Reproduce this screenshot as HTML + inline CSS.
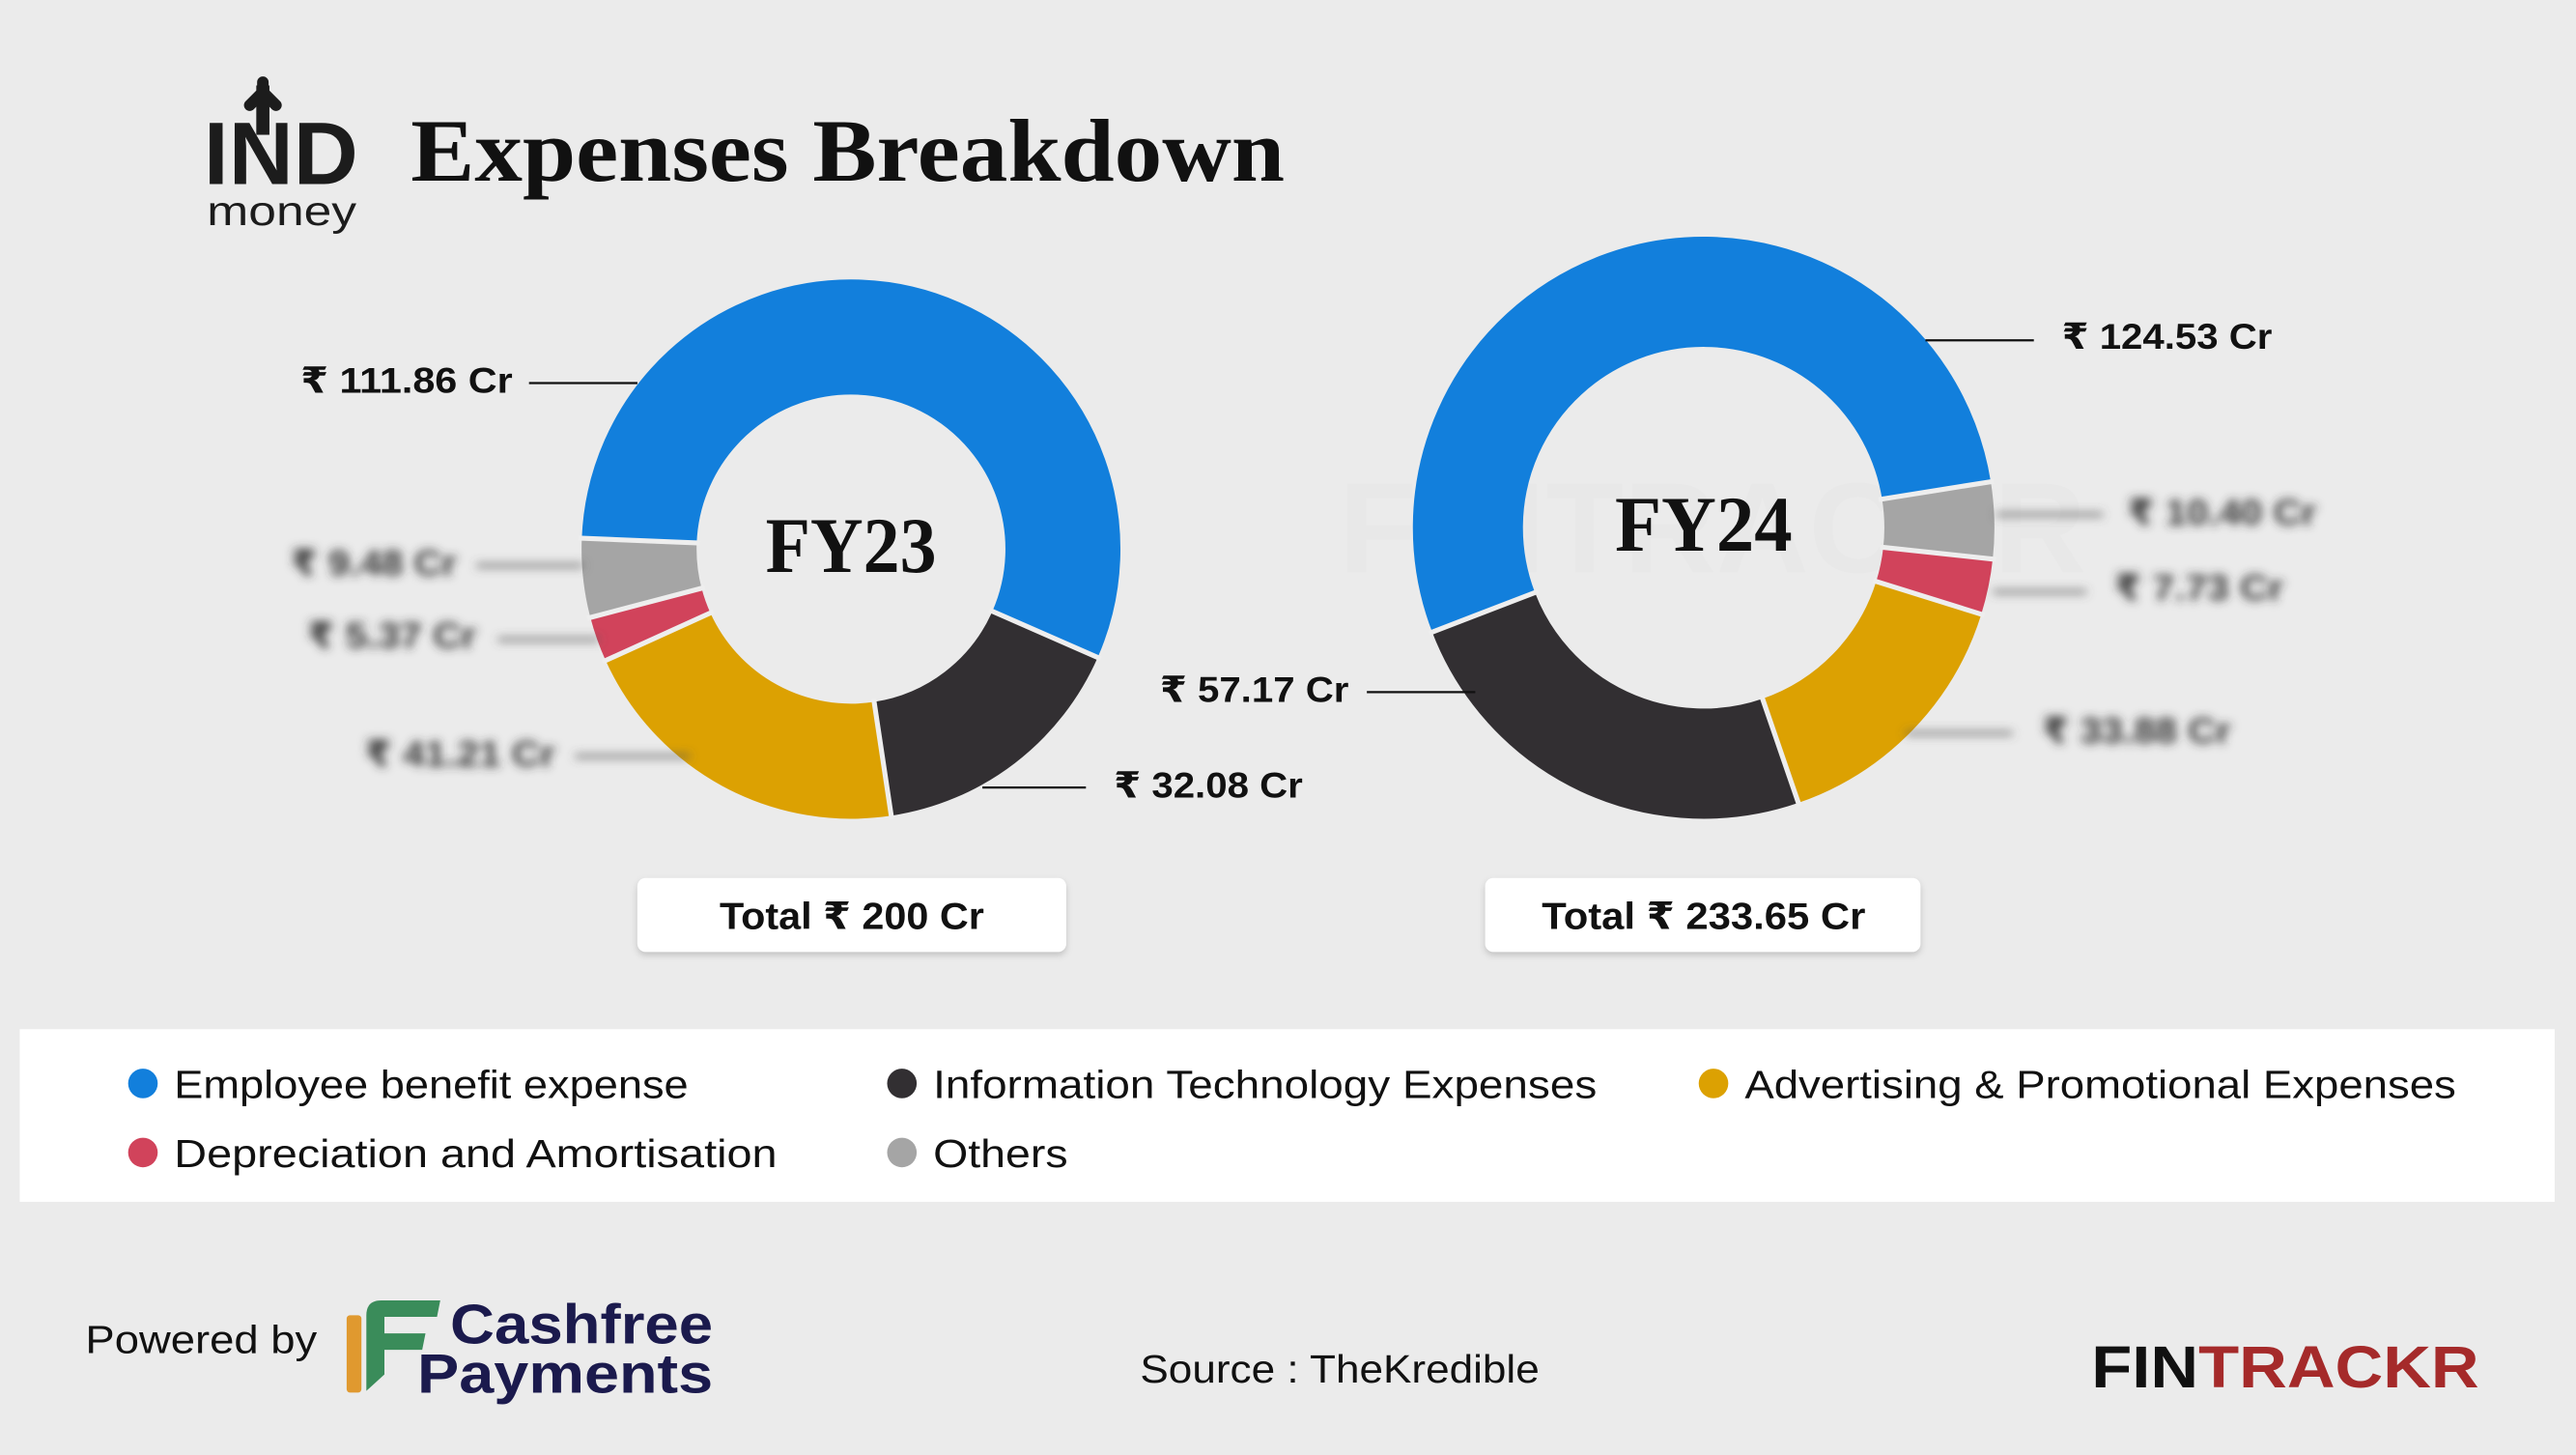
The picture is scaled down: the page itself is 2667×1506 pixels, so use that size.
<!DOCTYPE html>
<html><head><meta charset="utf-8"><style>
html,body{margin:0;padding:0;background:#ebebeb;}
svg{display:block;font-family:"Liberation Sans","DejaVu Sans",sans-serif;}
.serif{font-family:"Liberation Serif","DejaVu Serif",serif;}
</style></head><body>
<svg width="2667" height="1506" viewBox="0 0 1568 885" preserveAspectRatio="none" xmlns="http://www.w3.org/2000/svg">
<defs>
<filter id="bl" x="-20%" y="-50%" width="140%" height="200%"><feGaussianBlur stdDeviation="3"/></filter>
<filter id="sh" x="-10%" y="-30%" width="120%" height="170%"><feDropShadow dx="0" dy="2" stdDeviation="2" flood-color="#000" flood-opacity="0.18"/></filter>
</defs>
<rect width="1568" height="885" fill="#ebebeb"/>

<!-- watermark -->
<text x="815" y="348" font-size="78" font-weight="bold" fill="#e6e6e6" opacity="0.5">FINTRACKR</text>

<!-- IND money logo -->
<text x="124" y="112" font-size="54" font-weight="bold" fill="#1c1c1c" textLength="94" lengthAdjust="spacingAndGlyphs">IND</text>
<path d="M160 72 L160 56 L152 64 M160 56 L168 64 M160 50 L160 56" stroke="#1c1c1c" stroke-width="7" fill="none" stroke-linecap="round" stroke-linejoin="round"/>
<rect x="156" y="52" width="8" height="30" fill="#1c1c1c"/>
<text x="126" y="137" font-size="25" fill="#1c1c1c" textLength="91" lengthAdjust="spacingAndGlyphs">money</text>

<!-- Title -->
<text class="serif" x="250" y="110" font-size="54" font-weight="bold" fill="#111" textLength="532" lengthAdjust="spacingAndGlyphs">Expenses Breakdown</text>

<!-- FY23 donut -->
<g fill="none" stroke-width="70">
<circle cx="518" cy="334" r="129" stroke="#127fdc" stroke-dasharray="453.2 900" transform="rotate(182.3 518 334)"/>
<circle cx="518" cy="334" r="129" stroke="#322f32" stroke-dasharray="129.9 900" transform="rotate(23.7 518 334)"/>
<circle cx="518" cy="334" r="129" stroke="#dca102" stroke-dasharray="167.1 900" transform="rotate(81.4 518 334)"/>
<circle cx="518" cy="334" r="129" stroke="#d1435b" stroke-dasharray="21.8 900" transform="rotate(155.6 518 334)"/>
<circle cx="518" cy="334" r="129" stroke="#a5a5a5" stroke-dasharray="38.3 900" transform="rotate(165.3 518 334)"/>
</g>
<g stroke="#eeeeee" stroke-width="3">
<line x1="602.2" y1="371" x2="670" y2="400.7"/>
<line x1="531.8" y1="425" x2="542.8" y2="498.1"/>
<line x1="434.2" y1="372" x2="366.8" y2="402.6"/>
<line x1="429" y1="357.3" x2="357.4" y2="376.1"/>
<line x1="426.1" y1="330.3" x2="352.1" y2="327.3"/>
</g>
<text class="serif" x="518" y="348" text-anchor="middle" font-size="48" font-weight="bold" fill="#111" textLength="104" lengthAdjust="spacingAndGlyphs">FY23</text>

<!-- FY24 donut -->
<g fill="none" stroke-width="67">
<circle cx="1037" cy="321" r="143.5" stroke="#127fdc" stroke-dasharray="480.6 1000" transform="rotate(159 1037 321)"/>
<circle cx="1037" cy="321" r="143.5" stroke="#a5a5a5" stroke-dasharray="38.3 1000" transform="rotate(-9.1 1037 321)"/>
<circle cx="1037" cy="321" r="143.5" stroke="#d1435b" stroke-dasharray="27.8 1000" transform="rotate(6.2 1037 321)"/>
<circle cx="1037" cy="321" r="143.5" stroke="#dca102" stroke-dasharray="134.5 1000" transform="rotate(17.3 1037 321)"/>
<circle cx="1037" cy="321" r="143.5" stroke="#322f32" stroke-dasharray="220.4 1000" transform="rotate(71 1037 321)"/>
</g>
<g stroke="#eeeeee" stroke-width="3">
<line x1="1143.6" y1="303.9" x2="1213.7" y2="292.7"/>
<line x1="1144.4" y1="332.7" x2="1215" y2="340.3"/>
<line x1="1140.1" y1="353.1" x2="1207.9" y2="374.2"/>
<line x1="1072.2" y1="423.1" x2="1095.3" y2="490.2"/>
<line x1="936.2" y1="359.7" x2="869.9" y2="385.2"/>
</g>
<text class="serif" x="1037" y="335" text-anchor="middle" font-size="48" font-weight="bold" fill="#111" textLength="108" lengthAdjust="spacingAndGlyphs">FY24</text>

<!-- clear labels -->
<g font-size="22" font-weight="bold" fill="#111">
<text x="183" y="239" textLength="129" lengthAdjust="spacingAndGlyphs">₹ 111.86 Cr</text>
<text x="706" y="427" textLength="115" lengthAdjust="spacingAndGlyphs">₹ 57.17 Cr</text>
<text x="678" y="485" textLength="115" lengthAdjust="spacingAndGlyphs">₹ 32.08 Cr</text>
<text x="1255" y="212" textLength="128" lengthAdjust="spacingAndGlyphs">₹ 124.53 Cr</text>
</g>
<g stroke="#111" stroke-width="1.3">
<line x1="322" y1="233" x2="388" y2="233"/>
<line x1="832" y1="421" x2="898" y2="421"/>
<line x1="598" y1="479" x2="661" y2="479"/>
<line x1="1172" y1="207" x2="1238" y2="207"/>
</g>

<!-- blurred labels -->
<g filter="url(#bl)" font-size="22" font-weight="bold" fill="#333">
<text x="177" y="350" textLength="101" lengthAdjust="spacingAndGlyphs">₹ 9.48 Cr</text>
<text x="187" y="394" textLength="103" lengthAdjust="spacingAndGlyphs">₹ 5.37 Cr</text>
<text x="222" y="466" textLength="116" lengthAdjust="spacingAndGlyphs">₹ 41.21 Cr</text>
<text x="1295" y="319" textLength="115" lengthAdjust="spacingAndGlyphs">₹ 10.40 Cr</text>
<text x="1287" y="365" textLength="103" lengthAdjust="spacingAndGlyphs">₹ 7.73 Cr</text>
<text x="1243" y="452" textLength="115" lengthAdjust="spacingAndGlyphs">₹ 33.88 Cr</text>
<g stroke="#555" stroke-width="2">
<line x1="290" y1="344" x2="355" y2="344"/>
<line x1="303" y1="389" x2="365" y2="389"/>
<line x1="350" y1="460" x2="420" y2="460"/>
<line x1="1215" y1="313" x2="1280" y2="313"/>
<line x1="1213" y1="360" x2="1270" y2="360"/>
<line x1="1160" y1="446" x2="1225" y2="446"/>
</g>
</g>

<!-- totals -->
<rect x="388" y="534" width="261" height="45" rx="5" fill="#fff" filter="url(#sh)"/>
<text x="518.5" y="565" text-anchor="middle" font-size="23" font-weight="bold" fill="#111" textLength="161" lengthAdjust="spacingAndGlyphs">Total ₹ 200 Cr</text>
<rect x="904" y="534" width="265" height="45" rx="5" fill="#fff" filter="url(#sh)"/>
<text x="1037" y="565" text-anchor="middle" font-size="23" font-weight="bold" fill="#111" textLength="197" lengthAdjust="spacingAndGlyphs">Total ₹ 233.65 Cr</text>

<!-- legend -->
<rect x="12" y="626" width="1543" height="105" fill="#fff"/>
<g font-size="24" fill="#111">
<circle cx="87" cy="659" r="9" fill="#127fdc"/>
<text x="106" y="668" textLength="313" lengthAdjust="spacingAndGlyphs">Employee benefit expense</text>
<circle cx="549" cy="659" r="9" fill="#322f32"/>
<text x="568" y="668" textLength="404" lengthAdjust="spacingAndGlyphs">Information Technology Expenses</text>
<circle cx="1043" cy="659" r="9" fill="#dca102"/>
<text x="1062" y="668" textLength="433" lengthAdjust="spacingAndGlyphs">Advertising &amp; Promotional Expenses</text>
<circle cx="87" cy="701" r="9" fill="#d1435b"/>
<text x="106" y="710" textLength="367" lengthAdjust="spacingAndGlyphs">Depreciation and Amortisation</text>
<circle cx="549" cy="701" r="9" fill="#a5a5a5"/>
<text x="568" y="710" textLength="82" lengthAdjust="spacingAndGlyphs">Others</text>
</g>

<!-- footer -->
<text x="52" y="823" font-size="24" fill="#111" textLength="141" lengthAdjust="spacingAndGlyphs">Powered by</text>
<rect x="211" y="800" width="9" height="47" fill="#e0992f" rx="2"/>
<path d="M223 846 L223 800 Q223 791 232 791 L268 791 L266 801 L234 801 L234 811 L259 811 L257 821 L234 821 L234 836 Z" fill="#3a8c5a"/>
<text x="274" y="817" font-size="34" font-weight="bold" fill="#1b1a4d" textLength="160" lengthAdjust="spacingAndGlyphs">Cashfree</text>
<text x="254" y="847" font-size="34" font-weight="bold" fill="#1b1a4d" textLength="180" lengthAdjust="spacingAndGlyphs">Payments</text>
<text x="694" y="841" font-size="24" fill="#111" textLength="243" lengthAdjust="spacingAndGlyphs">Source : TheKredible</text>
<text x="1273" y="844" font-size="36" font-weight="bold" fill="#111" textLength="236" lengthAdjust="spacingAndGlyphs">FIN<tspan fill="#a52a2a">TRACKR</tspan></text>
</svg>
</body></html>
